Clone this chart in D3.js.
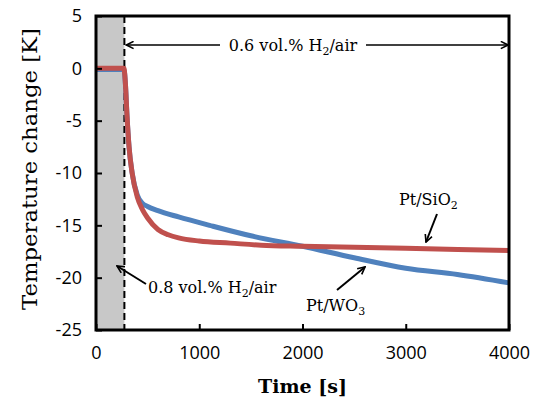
<!DOCTYPE html>
<html>
<head>
<meta charset="utf-8">
<script src="https://cdn.jsdelivr.net/npm/d3@7"></script>
<style>
  body { margin: 0; background: #fff; }
  svg text { fill: #000; }
</style>
</head>
<body>
<div id="chart"></div>
<script>
// data
const sio2Time = [0, 270, 285, 300, 320, 350, 400, 450, 500, 600, 700, 800, 1000, 1300, 1600, 2000, 2500, 3000, 4000];
const sio2Temp = [0, 0, -1.5, -4.5, -7.5, -10, -12.3, -13.5, -14.3, -15.4, -15.9, -16.2, -16.5, -16.7, -16.9, -17.0, -17.1, -17.2, -17.4];
const wo3Time = [0, 270, 285, 300, 320, 350, 400, 450, 500, 600, 800, 1100, 1500, 2000, 2500, 3000, 3500, 4000];
const wo3Temp = [-0.1, -0.1, -1.5, -4.5, -7.5, -10, -12.1, -12.9, -13.2, -13.6, -14.2, -15.0, -16.0, -17.0, -18.1, -19.1, -19.7, -20.5];
const xTicks = [0, 1000, 2000, 3000, 4000];
const yTicks = [5, 0, -5, -10, -15, -20, -25];
const switchTime = 275;

const margin = {top: 16, right: 27, bottom: 71, left: 96},
    width = 536 - margin.left - margin.right,
    height = 401 - margin.top - margin.bottom;

const svg = d3.select("#chart")
    .append("svg")
    .attr("width", 536)
    .attr("height", 401);

const g = svg.append("g")
    .attr("transform", `translate(${margin.left}, ${margin.top})`);

const x = d3.scaleLinear().domain([0, 4000]).range([0, width]);
const y = d3.scaleLinear().domain([-25, 5]).range([height, 0]);

// arrow head
svg.append("defs").append("marker")
    .attr("id", "head")
    .attr("viewBox", "0 0 10 10")
    .attr("refX", 9).attr("refY", 5)
    .attr("markerWidth", 9).attr("markerHeight", 9)
    .attr("markerUnits", "userSpaceOnUse")
    .attr("orient", "auto")
    .append("path")
    .attr("d", "M1,1 L9,5 L1,9")
    .attr("fill", "none")
    .attr("stroke", "#000")
    .attr("stroke-width", 1.8);

// grey 0.8% region
g.append("rect")
    .attr("x", 0).attr("y", 0)
    .attr("width", x(switchTime)).attr("height", height)
    .attr("fill", "#c8c8c8");

g.append("line")
    .attr("x1", x(switchTime)).attr("x2", x(switchTime))
    .attr("y1", 0).attr("y2", height)
    .attr("stroke", "#000")
    .attr("stroke-width", 2)
    .attr("stroke-dasharray", "7,4");

const line = d3.line()
    .x(d => x(d[0]))
    .y(d => y(d[1]))
    .curve(d3.curveMonotoneX);

g.append("path")
    .datum(d3.zip(wo3Time, wo3Temp))
    .attr("fill", "none")
    .attr("stroke", "#4f81bd")
    .attr("stroke-width", 5)
    .attr("d", line);

g.append("path")
    .datum(d3.zip(sio2Time, sio2Temp))
    .attr("fill", "none")
    .attr("stroke", "#c0504d")
    .attr("stroke-width", 5)
    .attr("d", line);

// axes, ticks inward
const fmt = d => String(d);
g.append("g")
    .attr("transform", `translate(0, ${height})`)
    .call(d3.axisBottom(x).tickValues(xTicks).tickFormat(fmt).tickSize(-6).tickPadding(16))
    .call(a => a.select(".domain").remove())
    .call(a => a.selectAll("line").attr("stroke-width", 2))
    .call(a => a.selectAll("text").attr("font-family", "Open Sans, sans-serif").attr("font-size", 18));

g.append("g")
    .call(d3.axisLeft(y).tickValues(yTicks).tickFormat(fmt).tickSize(-6).tickPadding(14))
    .call(a => a.select(".domain").remove())
    .call(a => a.selectAll("line").attr("stroke-width", 2))
    .call(a => a.selectAll("text").attr("font-family", "Open Sans, sans-serif").attr("font-size", 18));

g.append("rect")
    .attr("width", width).attr("height", height)
    .attr("fill", "none")
    .attr("stroke", "#000")
    .attr("stroke-width", 3);

// axis titles
svg.append("text")
    .attr("x", margin.left + width / 2)
    .attr("y", 393)
    .attr("text-anchor", "middle")
    .attr("font-family", "DejaVu Serif, serif")
    .attr("font-weight", "bold")
    .attr("font-size", 19)
    .text("Time [s]");

svg.append("text")
    .attr("transform", `translate(37, ${margin.top + height / 2 - 4}) rotate(-90)`)
    .attr("text-anchor", "middle")
    .attr("font-family", "DejaVu Serif, serif")
    .attr("font-size", 21)
    .attr("textLength", 282)
    .attr("lengthAdjust", "spacingAndGlyphs")
    .text("Temperature change [K]");

// annotations
const serif = "DejaVu Serif, serif";
function gasLabel(sel, tx, ty, pct) {
    const t = sel.append("text")
        .attr("x", tx).attr("y", ty)
        .attr("font-family", serif)
        .attr("font-size", 16);
    t.append("tspan").text(pct + " vol.% H");
    t.append("tspan").attr("dy", 4).attr("font-size", 11).text("2");
    t.append("tspan").attr("dy", -4).text("/air");
    return t;
}

const topY = 45;
gasLabel(svg, 293, topY + 6, "0.6").attr("text-anchor", "middle");
svg.append("line")
    .attr("x1", 220).attr("y1", topY).attr("x2", margin.left + x(switchTime) + 2).attr("y2", topY)
    .attr("stroke", "#000").attr("stroke-width", 1.6)
    .attr("marker-end", "url(#head)");
svg.append("line")
    .attr("x1", 366).attr("y1", topY).attr("x2", margin.left + width - 1).attr("y2", topY)
    .attr("stroke", "#000").attr("stroke-width", 1.6)
    .attr("marker-end", "url(#head)");

gasLabel(svg, 148, 293, "0.8");
svg.append("line")
    .attr("x1", 146).attr("y1", 284).attr("x2", 117).attr("y2", 266)
    .attr("stroke", "#000").attr("stroke-width", 2)
    .attr("marker-end", "url(#head)");

function sampleLabel(tx, ty, base, sub) {
    const t = svg.append("text")
        .attr("x", tx).attr("y", ty)
        .attr("font-family", serif)
        .attr("font-size", 16);
    t.append("tspan").text(base);
    t.append("tspan").attr("dy", 4).attr("font-size", 11).text(sub);
}
sampleLabel(399, 205, "Pt/SiO", "2");
svg.append("line")
    .attr("x1", 437).attr("y1", 214).attr("x2", 426).attr("y2", 242)
    .attr("stroke", "#000").attr("stroke-width", 2)
    .attr("marker-end", "url(#head)");

sampleLabel(306, 311, "Pt/WO", "3");
svg.append("line")
    .attr("x1", 337).attr("y1", 290).attr("x2", 365).attr("y2", 267)
    .attr("stroke", "#000").attr("stroke-width", 2)
    .attr("marker-end", "url(#head)");
</script>
</body>
</html>
